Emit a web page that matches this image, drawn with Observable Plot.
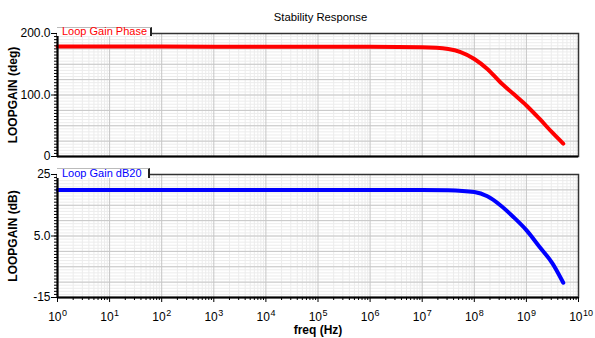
<!DOCTYPE html>
<html><head><meta charset="utf-8">
<script src="https://cdn.jsdelivr.net/npm/d3@7"></script>
<script src="https://cdn.jsdelivr.net/npm/@observablehq/plot@0.6"></script>
<style>
html,body{margin:0;padding:0;background:#fff;}
#chart{position:relative;width:595px;height:338px;font-family:"Liberation Sans",Arial,sans-serif;color:#000;}
#chart svg{display:block;}
.tag{position:absolute;left:57px;background:#fff;border-top:1px solid #bbb;border-right:2px solid #222;font-size:11px;font-family:"Liberation Sans",Arial,sans-serif;}
.tag span{position:absolute;left:5px;line-height:11px;white-space:nowrap;}
</style></head><body><div id="chart"></div>
<script>
// ---- data ----
const title = "Stability Response";
const xLabel = "freq (Hz)";
const phaseAxisLabel = "LOOPGAIN (deg)";
const gainAxisLabel = "LOOPGAIN (dB)";
const phaseLegend = "Loop Gain Phase";
const gainLegend = "Loop Gain dB20";

const freqHz   = [1, 1e2, 1e4, 1e6, 1e7, 3.16e7, 1e8, 1.78e8, 3.16e8, 5.62e8, 1e9, 1.78e9, 3.16e9, 5.1e9];
const phaseDeg = [178.8, 178.7, 178.6, 178.4, 177.5, 174.8, 158.6, 142.4, 120.7, 101.9, 83.0, 61.4, 38.7, 20.9];
const gainDb   = [20.0, 20.0, 20.0, 20.0, 20.0, 19.9, 19.3, 17.9, 15.0, 11.2, 6.9, 1.5, -3.9, -10.2];

const decadeExponents = [0,1,2,3,4,5,6,7,8,9,10];
const phaseTicks = [0, 100, 200];
const phaseTickLabels = ["0", "100.0", "200.0"];
const gainTicks = [-15, 5, 25];
const gainTickLabels = ["-15", "5.0", "25"];

// ---- derived ----
const rows = freqHz.map((f, i) => ({f, phase: phaseDeg[i], gain: gainDb[i]}));
const decades = decadeExponents.map(e => ({f: Math.pow(10, e), exp: String(e)}));
const decadeValues = decades.map(d => d.f);
const minorFreqs = [];
for (const e of decadeExponents.slice(0, -1)) for (let m = 2; m <= 9; m++) minorFreqs.push(m * Math.pow(10, e));
const xDomain = [1, 1e10];
const W = 595, ML = 57, MR = 17;

function panel({yKey, color, yDomain, majorStep, minorStep, ticks, tickLabels, axisLabel, height, marginTop, marginBottom, extra}) {
  const yMajor = d3.range(yDomain[0], yDomain[1] + 1e-9, majorStep);
  const yMinor = d3.range(yDomain[0], yDomain[1] + 1e-9, minorStep);
  const lab = new Map(ticks.map((t, i) => [t, tickLabels[i]]));
  return Plot.plot({
    width: W, height, marginLeft: ML, marginRight: MR, marginTop, marginBottom,
    style: {fontFamily: "Liberation Sans, Arial, sans-serif", color: "#000", background: "#fff", overflow: "visible"},
    x: {type: "log", domain: xDomain, axis: null},
    y: {domain: yDomain, axis: null},
    marks: [
      Plot.gridX(minorFreqs, {stroke: "#ececec", strokeOpacity: 1}),
      Plot.gridY(yMinor, {stroke: "#ececec", strokeOpacity: 1}),
      Plot.gridX(decadeValues, {stroke: "#c6c6c6", strokeOpacity: 1}),
      Plot.gridY(yMajor, {stroke: "#c6c6c6", strokeOpacity: 1}),
      Plot.line(rows, {x: "f", y: yKey, stroke: color, strokeWidth: 4, curve: "monotone-x"}),
      Plot.frame({stroke: "#333", strokeWidth: 1.5}),
      Plot.ruleX([xDomain[0]], {stroke: "#000", strokeWidth: 2}),
      Plot.ruleY([yDomain[0]], {stroke: "#000", strokeWidth: 2}),
      Plot.axisY(yMinor, {tickSize: 3, tickFormat: () => "", label: null}),
      Plot.axisY(ticks, {tickSize: 6, tickPadding: 1, tickFormat: d => lab.get(d), fontSize: 12, label: null}),
      Plot.text([axisLabel], {frameAnchor: "left", dx: -44, rotate: -90, textAnchor: "middle", lineAnchor: "middle", fontWeight: "bold", fontSize: 12, text: d => d}),
      ...(extra || [])
    ]
  });
}

const topPanel = panel({
  yKey: "phase", color: "#ff0000", yDomain: [0, 200], majorStep: 25, minorStep: 5,
  ticks: phaseTicks, tickLabels: phaseTickLabels, axisLabel: phaseAxisLabel,
  height: 165, marginTop: 33, marginBottom: 9,
  extra: [Plot.text([title], {frameAnchor: "top", dy: -12.3, dx: 2.5, lineAnchor: "bottom", fontSize: 11.3, text: d => d})]
});
const bottomPanel = panel({
  yKey: "gain", color: "#0000ff", yDomain: [-15, 25], majorStep: 5, minorStep: 1,
  ticks: gainTicks, tickLabels: gainTickLabels, axisLabel: gainAxisLabel,
  height: 173, marginTop: 9, marginBottom: 41,
  extra: [
    Plot.axisX(minorFreqs, {tickSize: 3, tickFormat: () => "", label: null}),
    Plot.axisX(decadeValues, {tickSize: 5, tickFormat: () => "", label: null}),
    Plot.text(decades, {x: "f", text: () => "10", frameAnchor: "bottom", dy: 23, dx: 4, textAnchor: "end", lineAnchor: "bottom", fontSize: 12}),
    Plot.text(decades, {x: "f", text: "exp", frameAnchor: "bottom", dy: 18, dx: 4.5, textAnchor: "start", lineAnchor: "bottom", fontSize: 9}),
    Plot.text([xLabel], {frameAnchor: "bottom", dy: 36.5, lineAnchor: "bottom", fontWeight: "bold", fontSize: 12, text: d => d})
  ]
});

const chart = document.getElementById("chart");
chart.append(topPanel, bottomPanel);

function tag(text, color, topPx, heightPx, widthPx, spanTop) {
  const d = document.createElement("div");
  d.className = "tag";
  d.style.top = topPx + "px";
  d.style.height = heightPx + "px";
  d.style.width = widthPx + "px";
  const s = document.createElement("span");
  s.textContent = text;
  s.style.color = color;
  s.style.top = spanTop + "px";
  d.append(s);
  chart.append(d);
}
tag(phaseLegend, "#ff0000", 27, 8, 93, -2);
tag(gainLegend, "#0000ff", 168, 9, 91, -1);
</script></body></html>
